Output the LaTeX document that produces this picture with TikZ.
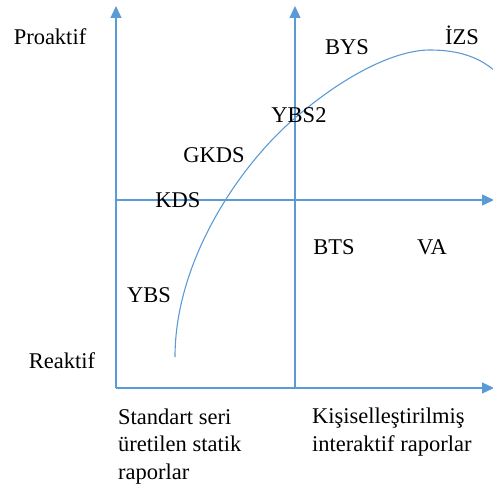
\documentclass[tikz,border=0pt]{standalone}
\usepackage{fontspec}
\setmainfont{Liberation Serif}
\usetikzlibrary{arrows.meta}
\definecolor{axisblue}{RGB}{91,155,213}

\begin{document}
\begin{tikzpicture}[x=1bp,y=-1bp,
    axis/.style={draw=axisblue,line width=1.3bp},
    arrowaxis/.style={axis,-{Triangle[length=12bp,width=11bp]}},
    lbl/.style={inner sep=0pt,font=\fontsize{22.5bp}{27.5bp}\selectfont},
    side/.style={lbl,align=left,anchor=base west}]
    \useasboundingbox (0,0) rectangle (493,486);
    \clip (0,0) rectangle (493,486);

    % axes
    \coordinate (o) at (116,388);
    \coordinate (ltop) at (116,6);
    \coordinate (m) at (295,388);
    \coordinate (mtop) at (295,6);
    \coordinate (hl) at (116,200);
    \coordinate (hr) at (494,200);
    \coordinate (br) at (494,388);
    \draw[arrowaxis] (o) -- (ltop);
    \draw[arrowaxis] (m) -- (mtop);
    \draw[arrowaxis] (hl) -- (hr);
    \draw[arrowaxis] (o) -- (br);

    % the curve
    \draw[axis,line width=1.1bp] (175,357) .. controls (175,260) and (240,165) .. (295,118)
      .. controls (345,75) and (395,50) .. (430,50)
      .. controls (460,50) and (482,58) .. (498,74);

    % left side
    \node[lbl] (proaktif) at (50,37) {Proaktif};
    \node[lbl] (reaktif) at (62,361) {Reaktif};

    % labels along the curve
    \node[lbl] (ybs) at (149,295) {YBS};
    \node[lbl] (kds) at (178,200) {KDS};
    \node[lbl] (gkds) at (214,155) {GKDS};
    \node[lbl] (ybs2) at (299,115) {YBS2};
    \node[lbl] (bys) at (347,47) {BYS};
    \node[lbl] (izs) at (462,35) {İZS};
    \node[lbl] (bts) at (334,247) {BTS};
    \node[lbl] (va) at (432,247) {VA};

    % bottom labels (anchored at the last line)
    \node[side] (standart) at (118,479) {Standart seri\\üretilen statik\\raporlar};
    \node[side] (kisisel) at (312,451) {Kişiselleştirilmiş\\interaktif raporlar};
\end{tikzpicture}
\end{document}
